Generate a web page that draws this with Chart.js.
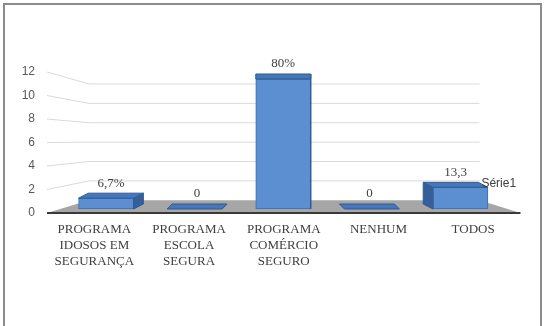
<!DOCTYPE html>
<html>
<head>
<meta charset="utf-8">
<script src="https://cdn.jsdelivr.net/npm/chart.js@4/dist/chart.umd.min.js"></script>
<style>
  body { margin: 0; background: #fff; }
  #wrap { position: relative; width: 546px; height: 326px; overflow: hidden; }
  #frame { position: absolute; left: 3px; top: 3px; width: 539px; height: 340px; box-sizing: border-box; border: 2px solid #8c8c8c; }
  canvas { position: absolute; left: 0; top: 0; }
</style>
</head>
<body>
<div id="wrap">
  <div id="frame"></div>
  <canvas id="chart" width="546" height="326"></canvas>
</div>
<script>
// data (counts out of 15)
const categories = [
  ['PROGRAMA', 'IDOSOS EM', 'SEGURANÇA'],
  ['PROGRAMA', 'ESCOLA', 'SEGURA'],
  ['PROGRAMA', 'COMÉRCIO', 'SEGURO'],
  ['NENHUM'],
  ['TODOS']
];
const values = [1, 0, 12, 0, 2];
const valueLabels = ['6,7%', '0', '80%', '0', '13,3'];
const seriesName = 'Série1';
const yTicks = [0, 2, 4, 6, 8, 10, 12];

const serif = '"Liberation Serif", "Times New Roman", serif';
const sans = '"Liberation Sans", Arial, sans-serif';

// depth of the fake 3d look
const depthY = -5;
const depthK = 0.055;

function depthX(chart, x) {
  const a = chart.chartArea;
  return ((a.left + a.right) / 2 - x) * depthK;
}

const floorPlugin = {
  id: 'floor3d',
  beforeDatasetsDraw(chart) {
    const ctx = chart.ctx, a = chart.chartArea, y = chart.scales.y;
    const y0 = y.getPixelForValue(0);
    const backLeft = a.left + 42, backRight = a.right - 41;
    const floorBack = y0 - 12.7;
    const back = v => floorBack - (y0 - y.getPixelForValue(v)) * 0.825;
    ctx.save();
    // grid on the back wall
    ctx.strokeStyle = '#d9d9d9';
    ctx.lineWidth = 1;
    yTicks.forEach(v => {
      if (v === 0) return;
      ctx.beginPath();
      ctx.moveTo(a.left, y.getPixelForValue(v));
      ctx.lineTo(backLeft, back(v));
      ctx.lineTo(backRight, back(v));
      ctx.stroke();
    });
    // floor
    ctx.fillStyle = '#a6a6a6';
    ctx.beginPath();
    ctx.moveTo(a.left, y0);
    ctx.lineTo(backLeft, floorBack);
    ctx.lineTo(backRight, floorBack);
    ctx.lineTo(a.right, y0);
    ctx.closePath();
    ctx.fill();
    ctx.strokeStyle = '#3a3a3a';
    ctx.lineWidth = 2;
    ctx.beginPath();
    ctx.moveTo(a.left, y0);
    ctx.lineTo(a.right, y0);
    ctx.stroke();
    ctx.restore();
  },
  afterDatasetsDraw(chart) {
    const ctx = chart.ctx;
    const meta = chart.getDatasetMeta(0);
    ctx.save();
    meta.data.forEach((bar, i) => {
      const p = bar.getProps(['x', 'y', 'base', 'width'], true);
      const l = p.x - p.width / 2, r = p.x + p.width / 2;
      const top = Math.min(p.y, p.base), bot = Math.max(p.y, p.base);
      const dx = depthX(chart, p.x), dy = depthY;
      ctx.lineWidth = 1;
      ctx.strokeStyle = '#2f5b95';
      // side face
      if (bot - top > 0.5) {
        const sx = dx > 0 ? r : l;
        ctx.fillStyle = '#345f99';
        ctx.beginPath();
        ctx.moveTo(sx, top);
        ctx.lineTo(sx + dx, top + dy);
        ctx.lineTo(sx + dx, bot + dy);
        ctx.lineTo(sx, bot);
        ctx.closePath();
        ctx.fill();
        ctx.stroke();
      }
      // top face
      ctx.fillStyle = '#4677b8';
      ctx.beginPath();
      ctx.moveTo(l, top);
      ctx.lineTo(l + dx, top + dy);
      ctx.lineTo(r + dx, top + dy);
      ctx.lineTo(r, top);
      ctx.closePath();
      ctx.fill();
      ctx.stroke();
      // value label
      ctx.fillStyle = '#404040';
      ctx.font = '13px ' + serif;
      ctx.textAlign = 'center';
      ctx.textBaseline = 'middle';
      ctx.fillText(valueLabels[i], p.x + dx / 2, top + dy - 10);
      if (i === values.length - 1) {
        ctx.font = '12px ' + sans;
        ctx.textAlign = 'left';
        ctx.fillText(seriesName, p.x + 21, top - 4);
      }
    });
    ctx.restore();
  }
};

const ctx = document.getElementById('chart').getContext('2d');
new Chart(ctx, {
  type: 'bar',
  data: {
    labels: categories,
    datasets: [{
      label: seriesName,
      data: values.map((v, i) => ({ x: i, y: v })),
      xAxisID: 'xb',
      yAxisID: 'yb',
      backgroundColor: '#5b8fd2',
      borderColor: '#3d6dac',
      borderWidth: 1,
      borderSkipped: false,
      barThickness: 55
    }]
  },
  options: {
    responsive: false,
    animation: false,
    layout: { padding: { top: 72, right: 25.5, left: 0, bottom: 0 } },
    plugins: { legend: { display: false }, tooltip: { enabled: false } },
    scales: {
      x: {
        type: 'category',
        position: 'bottom',
        offset: true,
        grid: { display: false, drawTicks: false },
        border: { display: false },
        ticks: {
          color: '#404040',
          font: { family: serif, size: 13, lineHeight: 1.22 },
          padding: 9,
          maxRotation: 0,
          autoSkip: false
        },
        afterFit: s => { s.height = 113; }
      },
      y: {
        type: 'linear',
        position: 'left',
        min: 0,
        max: 12,
        grid: { display: false, drawTicks: false },
        border: { display: false },
        afterBuildTicks: s => { s.ticks = yTicks.map(v => ({ value: v })); },
        ticks: {
          color: '#595959',
          font: { family: sans, size: 12 },
          padding: 12
        },
        afterFit: s => { s.width = 47; }
      },
      xb: {
        type: 'linear',
        display: false,
        offset: false,
        bounds: 'data',
        min: -0.667,
        max: 4.678
      },
      yb: {
        type: 'linear',
        display: false,
        offset: false,
        bounds: 'data',
        min: -0.369,
        max: 12.646
      }
    }
  },
  plugins: [floorPlugin]
});
</script>
</body>
</html>
